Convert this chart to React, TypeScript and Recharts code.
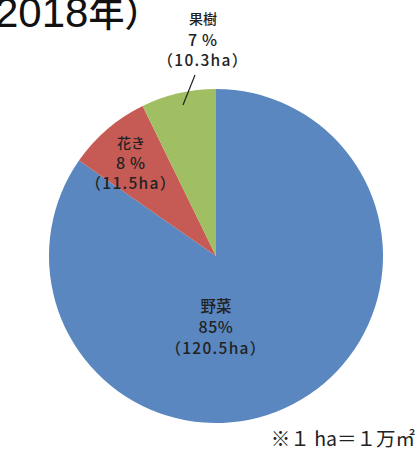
import React from "react";
import { PieChart, Pie, Cell } from "recharts";

const categories = ["野菜", "花き", "果樹"];
const areas = [120.5, 11.5, 10.3];
const percentLabels = ["85%", "8 ％", "7 ％"];
const areaLabels = ["（120.5ha）", "（11.5ha）", "（10.3ha）"];
const colors = ["#5A87BF", "#C65A55", "#A0BE62"];
const titleDigits = "2018";
const titleRest = "年）";
const footnote = "※１ ha＝１万㎡";

const data = categories.map((name, i) => ({ name, value: areas[i] }));

const FONT = '"Noto Sans CJK JP", "Noto Sans", sans-serif';

// label placement relative to the pie centre
const labelLayout = [
  { dx: 0, dy: 49, nameSize: 15.5, gap: 21 },
  { dx: -85, dy: -114, nameSize: 14, gap: 20 },
  { dx: -13, dy: -238, nameSize: 14, gap: 20.5, leader: [-33, -151, -21, -181] },
];

const renderLabel = (props: any) => {
  const { cx, cy, index } = props;
  const l = labelLayout[index];
  const x = cx + l.dx;
  const y = cy + l.dy;
  return (
    <g key={`lbl-${index}`}>
      {l.leader && (
        <line
          x1={cx + l.leader[0]}
          y1={cy + l.leader[1]}
          x2={cx + l.leader[2]}
          y2={cy + l.leader[3]}
          stroke="#222"
          strokeWidth={1.2}
        />
      )}
      <text x={x} y={y} textAnchor="middle" dominantBaseline="central" fontSize={l.nameSize} fontWeight={500} fill="#222" fontFamily={FONT}>
        {categories[index]}
      </text>
      <text x={x} y={y + l.gap} textAnchor="middle" dominantBaseline="central" fontSize={16} fontWeight={500} fill="#222" fontFamily={FONT} letterSpacing={0.5}>
        {percentLabels[index]}
      </text>
      <text x={x} y={y + l.gap * 2} textAnchor="middle" dominantBaseline="central" fontSize={15.5} fontWeight={500} fill="#222" fontFamily={FONT} letterSpacing={1.3}>
        {areaLabels[index]}
      </text>
    </g>
  );
};

export default function App() {
  return (
    <div style={{ position: "absolute", left: 0, top: 0, width: 418, height: 450, background: "#fff" }}>
      <PieChart width={418} height={450} margin={{ top: 0, right: 0, bottom: 0, left: 0 }}>
        <Pie
          data={data}
          dataKey="value"
          nameKey="name"
          cx={216}
          cy={256}
          innerRadius={0}
          outerRadius={167}
          startAngle={90}
          endAngle={-270}
          stroke="none"
          label={renderLabel}
          labelLine={false}
          isAnimationActive={false}
        >
          {data.map((d, i) => (
            <Cell key={d.name} fill={colors[i]} />
          ))}
        </Pie>
      </PieChart>
      <svg width={418} height={450} style={{ position: "absolute", left: 0, top: 0, pointerEvents: "none" }}>
        <text x={-5} y={27} fill="#111" fontFamily={FONT} fontWeight={500}>
          <tspan fontFamily='"Liberation Sans", Arial, sans-serif' fontSize={42}>{titleDigits}</tspan>
          <tspan fontSize={36}>{titleRest}</tspan>
        </text>
        <text x={415} y={446} textAnchor="end" fontSize={19.5} fill="#222" fontFamily={FONT}>
          {footnote}
        </text>
      </svg>
    </div>
  );
}
